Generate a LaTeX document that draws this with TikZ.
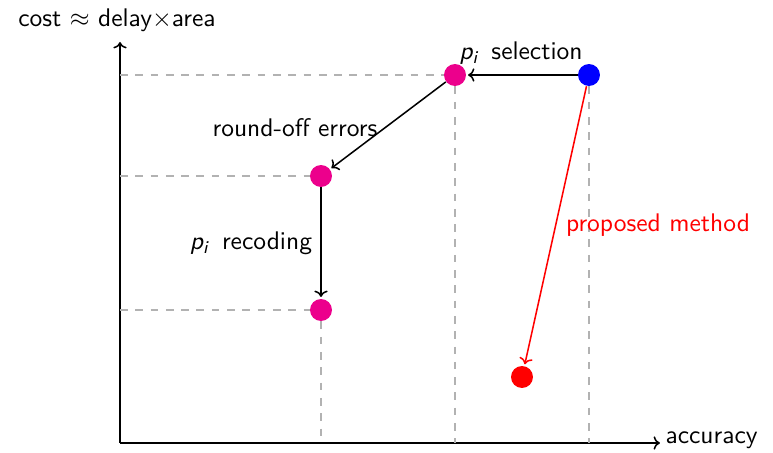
\documentclass[tikz,border=0pt]{standalone}
\usetikzlibrary{arrows.meta}
\definecolor{dotmag}{RGB}{236,0,140}
\newcommand{\pivar}{\mbox{\slshape p}$_{\mbox{\scriptsize\slshape i}}$\hspace{0.18em}}
\begin{document}
\begin{tikzpicture}[x=0.3922pt,y=-0.3922pt,font=\sffamily,
  dot/.style={circle,fill=#1,inner sep=0pt,minimum size=8.6pt},
  axis/.style={semithick,-{To[length=2.5pt]}},
  conn/.style={semithick,-{To[length=2.5pt]},shorten >=0.6pt},
  guide/.style={gray!60,dashed,thin},
  lbl/.style={inner sep=0pt}]
\useasboundingbox (0,0) rectangle (773,453);
% axes
\coordinate (O) at (120,443);
\coordinate (Ytop) at (120,42);
\coordinate (Xend) at (660,443);
\draw[axis] (O) -- (Ytop);
\draw[axis] (O) -- (Xend);
\node[lbl] (ylab) at (117,20) {cost $\approx$ delay$\times$area};
\node[lbl,anchor=west] (xlab) at (665,440) {accuracy};
% points
\node[dot=blue] (b) at (589,75) {};
\node[dot=dotmag] (m1) at (455,75) {};
\node[dot=dotmag] (m2) at (321,176) {};
\node[dot=dotmag] (m3) at (321,310) {};
\node[dot=red] (r) at (522,377) {};
% guides
\coordinate (y1) at (120,75);
\coordinate (y2) at (120,176);
\coordinate (y3) at (120,310);
\coordinate (x1) at (321,443);
\coordinate (x2) at (455,443);
\coordinate (x3) at (589,443);
\draw[guide] (y1) -- (m1);
\draw[guide] (y2) -- (m2);
\draw[guide] (y3) -- (m3);
\draw[guide] (m3) -- (x1);
\draw[guide] (m1) -- (x2);
\draw[guide] (b) -- (x3);
% connectors
\draw[conn] (b) -- (m1);
\draw[conn] (m1) -- (m2);
\draw[conn] (m2) -- (m3);
\draw[conn,red] (b) -- (r);
% labels
\node[lbl] (l1) at (521,53) {\pivar{} selection};
\node[lbl] (l2) at (295,128) {round-off errors};
\node[lbl] (l3) at (251,243) {\pivar{} recoding};
\node[lbl,red] (l4) at (658,225) {proposed method};
\end{tikzpicture}
\end{document}
